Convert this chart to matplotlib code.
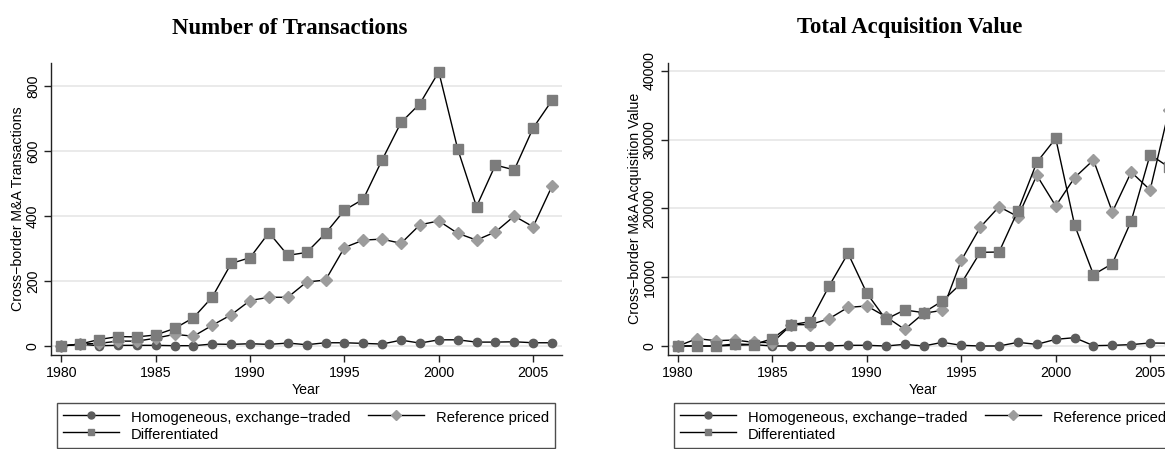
import numpy as np
import matplotlib
matplotlib.use("Agg")
import matplotlib.pyplot as plt
from matplotlib.lines import Line2D

plt.rcParams['font.family'] = ['Liberation Sans', 'DejaVu Sans']

years = list(range(1980, 2007))

# Number of transactions
tx_homog = [0, 5, 1, 2, 2, 2, 1, 1, 6, 5, 7, 5, 9, 4, 10, 10, 8, 6, 18, 9,
            19, 19, 12, 12, 13, 10, 10]
tx_ref = [0, 6, 8, 15, 15, 24, 36, 30, 64, 96, 140, 150, 150, 197, 203, 303,
          326, 329, 316, 373, 385, 347, 326, 351, 400, 367, 492]
tx_diff = [0, 6, 20, 29, 28, 34, 54, 87, 151, 254, 272, 349, 279, 288, 347,
           418, 452, 573, 688, 746, 844, 607, 429, 557, 542, 671, 756]

# Total acquisition value
val_homog = [0, 0, 0, 100, 200, 0, 0, 0, 0, 100, 100, 0, 240, 0, 530, 100,
             0, 0, 530, 240, 970, 1210, 50, 100, 200, 440, 400]
val_ref = [0, 1070, 775, 870, 530, 500, 3100, 3100, 3975, 5620, 5820, 4270,
           2425, 4750, 5190, 12460, 17260, 20260, 18810, 24820, 20360, 24480,
           27050, 19490, 25300, 22690, 34300]
val_diff = [0, 0, 0, 300, 200, 1070, 3100, 3540, 8730, 13480, 7660, 3880,
            5240, 4850, 6545, 9115, 13620, 13670, 19680, 26710, 30200, 17600,
            10375, 11975, 18180, 27830, 26000]

labels = ['Homogeneous, exchange\u2212traded', 'Reference priced', 'Differentiated']
col_h, col_r, col_d = '#5c5c5c', '#9c9c9c', '#7c7c7c'

W, H = 1165, 449
fig = plt.figure(figsize=(W / 100, H / 100), dpi=100)


def px_axes(x0, x1, ytop, ybot):
    return fig.add_axes([x0 / W, 1 - ybot / H, (x1 - x0) / W, (ybot - ytop) / H])


def style(ax, ylim, yticks, ylabel):
    ax.set_xlim(1979.45, 2006.53)
    ax.set_ylim(*ylim)
    ax.set_xticks([1980, 1985, 1990, 1995, 2000, 2005])
    ax.set_yticks(yticks)
    ax.grid(axis='y', color='#e6e6e6', linewidth=1.2)
    ax.set_axisbelow(True)
    for s in ['top', 'right']:
        ax.spines[s].set_visible(False)
    for s in ['left', 'bottom']:
        ax.spines[s].set_linewidth(1.0)
        ax.spines[s].set_color('#222222')
    ax.tick_params(direction='out', length=5, width=1, color='#222222',
                   labelsize=10.2, pad=3)
    plt.setp(ax.get_yticklabels(), rotation=90, va='center')
    ax.set_xlabel('Year', fontsize=10.2, labelpad=2)
    ax.set_ylabel(ylabel, fontsize=10.2, labelpad=0.6)


def draw(ax, h, r, d):
    ax.plot(years, h, color='black', lw=1, marker='o', ms=6,
            mfc=col_h, mec=col_h, zorder=3)
    ax.plot(years, r, color='black', lw=1, marker='D', ms=6,
            mfc=col_r, mec=col_r, zorder=3)
    ax.plot(years, d, color='black', lw=1, marker='s', ms=6.5,
            mfc=col_d, mec=col_d, zorder=3)


def legend(x0, x1):
    handles = [
        Line2D([], [], color='black', lw=1, marker='o', ms=5, mfc=col_h, mec=col_h),
        Line2D([], [], color='black', lw=1, marker='s', ms=5, mfc=col_d, mec=col_d),
        Line2D([], [], color='black', lw=1, marker='D', ms=5, mfc=col_r, mec=col_r),
    ]
    names = [labels[0], labels[2], labels[1]]
    top = 403
    leg = fig.legend(handles, names, ncol=2, mode='expand',
                     bbox_to_anchor=(x0 / W, 1 - (top + 56) / H, (x1 - x0) / W, 56 / H),
                     loc='upper left', fontsize=10.6, handlelength=3.8,
                     handleheight=1.25, handletextpad=0.8, labelspacing=0.1,
                     borderaxespad=0, borderpad=0.4, fancybox=False,
                     frameon=True, columnspacing=1.5)
    leg.get_frame().set_edgecolor('#222222')
    leg.get_frame().set_linewidth(1.0)


ax1 = px_axes(51, 562, 62.7, 355)
draw(ax1, tx_homog, tx_ref, tx_diff)
style(ax1, (-27.7, 872), [0, 200, 400, 600, 800], 'Cross\u2212border M&A Transactions')

ax2 = px_axes(667.7, 1179, 62.7, 355)
draw(ax2, val_homog, val_ref, val_diff)
style(ax2, (-1309, 41200), [0, 10000, 20000, 30000, 40000],
      'Cross\u2212border M&A Acquisition Value')

legend(57, 555)
legend(674, 1172)

fig.text(290 / W, 1 - 28 / H, 'Number of Transactions', ha='center', va='center',
         fontsize=16.4, fontweight='bold', family='Liberation Serif')
fig.text(910 / W, 1 - 28 / H, 'Total Acquisition Value', ha='center', va='center',
         fontsize=16.4, fontweight='bold', family='Liberation Serif')

fig.savefig('out.png', dpi=100)
